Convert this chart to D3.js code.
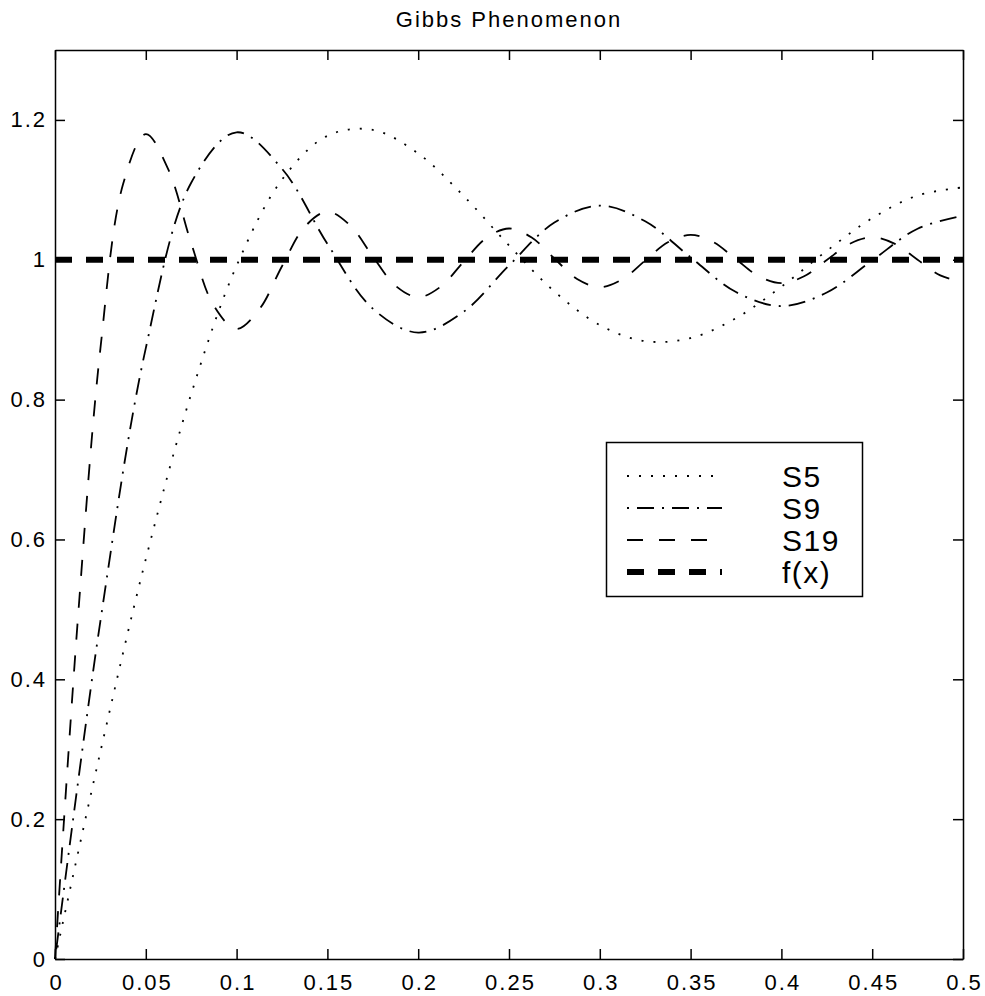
<!DOCTYPE html>
<html>
<head>
<meta charset="utf-8">
<script src="https://cdn.jsdelivr.net/npm/d3@7"></script>
<style>
  body { margin: 0; background: #fff; }
  svg { display: block; }
  text { font-family: "Liberation Sans", Arial, Helvetica, sans-serif; fill: #000; }
</style>
</head>
<body>
<svg id="chart" width="985" height="996"></svg>
<script>
// Partial Fourier sums of a square wave, compared with the wave itself.
const chartTitle = "Gibbs Phenomenon";

const xTicks = [0, 0.05, 0.1, 0.15, 0.2, 0.25, 0.3, 0.35, 0.4, 0.45, 0.5];
const xTickLabels = ["0", "0.05", "0.1", "0.15", "0.2", "0.25", "0.3", "0.35", "0.4", "0.45", "0.5"];
const yTicks = [0, 0.2, 0.4, 0.6, 0.8, 1, 1.2];
const yTickLabels = ["0", "0.2", "0.4", "0.6", "0.8", "1", "1.2"];

const seriesNames = ["S5", "S9", "S19", "f(x)"];

// sample positions
const xCoarse = [0, 0.025, 0.05, 0.075, 0.1, 0.125, 0.15, 0.175, 0.2, 0.225, 0.25,
                 0.275, 0.3, 0.325, 0.35, 0.375, 0.4, 0.425, 0.45, 0.475, 0.5];
const xFine = [0, 0.0125, 0.025, 0.0375, 0.05, 0.0625, 0.075, 0.0875, 0.1, 0.1125,
               0.125, 0.1375, 0.15, 0.1625, 0.175, 0.1875, 0.2, 0.2125, 0.225, 0.2375,
               0.25, 0.2625, 0.275, 0.2875, 0.3, 0.3125, 0.325, 0.3375, 0.35, 0.3625,
               0.375, 0.3875, 0.4, 0.4125, 0.425, 0.4375, 0.45, 0.4625, 0.475, 0.4875, 0.5];

const s5 = [0, 0.2964, 0.5719, 0.8081, 0.9915, 1.1146, 1.1773, 1.1858, 1.1520, 1.0913, 1.0204,
            0.9547, 0.9066, 0.8836, 0.8880, 0.9165, 0.9615, 1.0128, 1.0595, 1.0919, 1.1035];
const s9 = [0, 0.4833, 0.8737, 1.1101, 1.1823, 1.1301, 1.0228, 0.9301, 0.8959, 0.9256, 0.9918,
            1.0532, 1.0773, 1.0550, 1.0035, 0.9538, 0.9338, 0.9531, 0.9990, 1.0444, 1.0631];
const s19 = [0, 0.4832, 0.8729, 1.1082, 1.1798, 1.1284, 1.0237, 0.9340, 0.9011, 0.9291,
             0.9908, 1.0471, 1.0688, 1.0492, 1.0047, 0.9629, 0.9465, 0.9618, 0.9972, 1.0311,
             1.0447, 1.0318, 1.0018, 0.9726, 0.9609, 0.9722, 0.9989, 1.0250, 1.0356, 1.0253,
             1.0007, 0.9765, 0.9666, 0.9764, 0.9996, 1.0227, 1.0321, 1.0227, 1.0001, 0.9776, 0.9682];
const fxX = [0, 0.5];
const fxY = [1, 1];

// ---- layout and styles ----
const plot = { left: 55, top: 50, right: 963, bottom: 959 };
const tickFont = 22, legendFont = 30;

const svg = d3.select("#chart");
svg.append("rect").attr("width", 985).attr("height", 996).attr("fill", "#fff");

const x = d3.scaleLinear().domain([0, 0.5]).range([plot.left, plot.right]);
const y = d3.scaleLinear().domain([0, 1.3]).range([plot.bottom, plot.top]);

function styleAxis(g) {
  g.attr("font-size", tickFont)
   .attr("font-family", "'Liberation Sans', Arial, Helvetica, sans-serif");
  g.select(".domain").attr("stroke", "#000").attr("stroke-width", 1.5);
  g.selectAll(".tick line").attr("stroke", "#000").attr("stroke-width", 1.5);
  g.selectAll(".tick text").attr("fill", "#000").style("letter-spacing", "2px");
}

// box with inward ticks on all four sides
svg.append("g")
  .attr("transform", `translate(0,${plot.bottom})`)
  .call(d3.axisBottom(x).tickValues(xTicks).tickFormat((d, i) => xTickLabels[i])
        .tickSizeInner(-10).tickSizeOuter(0).tickPadding(15))
  .call(styleAxis)
  .call(g => g.selectAll(".tick text").attr("dx", "1"));

svg.append("g")
  .attr("transform", `translate(0,${plot.top})`)
  .call(d3.axisTop(x).tickValues(xTicks).tickFormat(() => "")
        .tickSizeInner(-10).tickSizeOuter(0))
  .call(styleAxis);

svg.append("g")
  .attr("transform", `translate(${plot.left},0)`)
  .call(d3.axisLeft(y).tickValues(yTicks).tickFormat((d, i) => yTickLabels[i])
        .tickSizeInner(-10).tickSizeOuter(0).tickPadding(8))
  .call(styleAxis);

svg.append("g")
  .attr("transform", `translate(${plot.right},0)`)
  .call(d3.axisRight(y).tickValues(yTicks).tickFormat(() => "")
        .tickSizeInner(-10).tickSizeOuter(0))
  .call(styleAxis);

// title
svg.append("text")
  .attr("x", (plot.left + plot.right) / 2)
  .attr("y", 27)
  .attr("text-anchor", "middle")
  .attr("font-size", tickFont)
  .style("letter-spacing", "2px")
  .text(chartTitle);

// curves
const series = [
  { name: seriesNames[0], xs: xCoarse, ys: s5,  dash: "2,10",     width: 1.8, smooth: true },
  { name: seriesNames[1], xs: xCoarse, ys: s9,  dash: "2,8,17,8", width: 1.8, smooth: true },
  { name: seriesNames[2], xs: xFine,   ys: s19, dash: "16,16",    width: 1.8, smooth: true },
  { name: seriesNames[3], xs: fxX,     ys: fxY, dash: "17,14",    width: 6,   smooth: false }
];

const smoothLine = d3.line().x(d => x(d[0])).y(d => y(d[1])).curve(d3.curveCatmullRom.alpha(0.5));
const straightLine = d3.line().x(d => x(d[0])).y(d => y(d[1]));

const curves = svg.append("g");
series.forEach(s => {
  const pts = s.xs.map((v, i) => [v, s.ys[i]]);
  curves.append("path")
    .attr("d", (s.smooth ? smoothLine : straightLine)(pts))
    .attr("fill", "none")
    .attr("stroke", "#000")
    .attr("stroke-width", s.width)
    .attr("stroke-dasharray", s.dash);
});

// legend
const legend = svg.append("g");
legend.append("rect")
  .attr("x", 606.5).attr("y", 442.5).attr("width", 256).attr("height", 154)
  .attr("fill", "#fff").attr("stroke", "#000").attr("stroke-width", 1.5);

series.forEach((s, i) => {
  const yc = 476 + 32 * i;
  legend.append("line")
    .attr("x1", 627).attr("x2", 722).attr("y1", yc).attr("y2", yc)
    .attr("stroke", "#000").attr("stroke-width", s.width)
    .attr("stroke-dasharray", s.dash);
  legend.append("text")
    .attr("x", 782).attr("y", yc).attr("dy", "0.36em")
    .attr("font-size", legendFont)
    .style("letter-spacing", "1.5px")
    .text(s.name);
});
</script>
</body>
</html>
